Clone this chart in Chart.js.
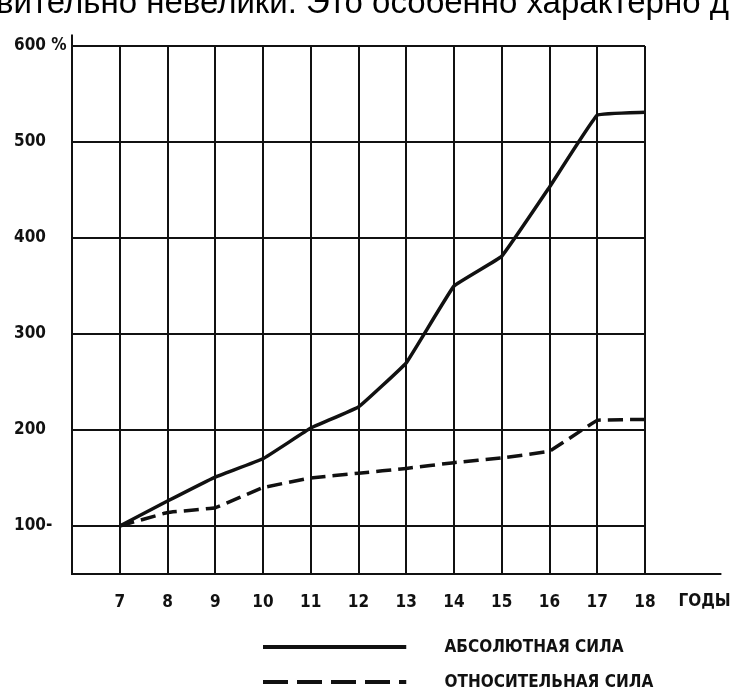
<!DOCTYPE html>
<html>
<head>
<meta charset="utf-8">
<script src="https://cdn.jsdelivr.net/npm/chart.js@4.4.1/dist/chart.umd.min.js"></script>
<style>
body { margin: 0; background: #fff; }
#wrap { position: relative; width: 739px; height: 691px; overflow: hidden; }
#txt { position: absolute; left: -4px; top: -17px; font-family: 'Liberation Sans', Arial, sans-serif; font-size: 33px; white-space: nowrap; color: #000; }
canvas { position: absolute; left: 0; top: 0; }
</style>
</head>
<body>
<div id="wrap">
<canvas id="chart" width="739" height="691"></canvas>
<div id="txt">вительно невелики. Это особенно характерно д</div>
</div>
<script>
var years = [7, 8, 9, 10, 11, 12, 13, 14, 15, 16, 17, 18];
var absolute = [100, 126, 151, 170, 202, 224, 270, 350, 381, 453, 528, 531];
var relative = [100, 114, 119, 140, 150, 155, 160, 166, 171, 178, 210, 211];
var yTicks = [100, 200, 300, 400, 500, 600];
var yLabels = ['100-', '200', '300', '400', '500', '600 %'];
var legendLabels = ['АБСОЛЮТНАЯ СИЛА', 'ОТНОСИТЕЛЬНАЯ СИЛА'];
var axisTitle = 'ГОДЫ';

var ink = '#111';
var fontFam = "'DejaVu Sans Condensed', 'Liberation Sans Narrow', 'DejaVu Sans', sans-serif";
var tickFont = { family: fontFam, size: 17, weight: 'bold' };

function pts(vals) {
    return years.map(function (yr, i) { return { x: yr, y: vals[i] }; });
}

// bits the scales don't draw: axis overhangs, "ГОДЫ", the legend under the chart
var extras = {
    id: 'extras',
    afterDraw: function (chart) {
        var ctx = chart.ctx;
        var xs = chart.scales.x, ys = chart.scales.y;
        var a = chart.chartArea;
        ctx.save();
        ctx.strokeStyle = ink;
        ctx.fillStyle = ink;
        ctx.lineWidth = 2;

        ctx.beginPath();
        ctx.moveTo(a.left, a.top);
        ctx.lineTo(a.left, ys.getPixelForValue(612));
        ctx.stroke();

        ctx.beginPath();
        ctx.moveTo(a.right, a.bottom);
        ctx.lineTo(xs.getPixelForValue(19.6), a.bottom);
        ctx.stroke();

        ctx.font = 'bold 17px ' + fontFam;
        ctx.textBaseline = 'middle';
        ctx.textAlign = 'left';
        ctx.fillText(axisTitle, xs.getPixelForValue(18.7), a.bottom + 28);

        var lx0 = xs.getPixelForValue(10), lx1 = xs.getPixelForValue(13);
        var tx = xs.getPixelForValue(13.8);
        var rows = [a.bottom + 73, a.bottom + 108];
        ctx.font = 'bold 17px ' + fontFam;
        ctx.lineWidth = 4;
        for (var i = 0; i < 2; i++) {
            ctx.setLineDash(i == 0 ? [] : [25, 9]);
            ctx.beginPath();
            ctx.moveTo(lx0, rows[i]);
            ctx.lineTo(lx1, rows[i]);
            ctx.stroke();
            ctx.setLineDash([]);
            ctx.fillText(legendLabels[i], tx, rows[i] + 1);
        }
        ctx.restore();
    }
};

var ctx = document.getElementById('chart').getContext('2d');
var myChart = new Chart(ctx, {
    type: 'line',
    data: {
        datasets: [{
            label: legendLabels[0],
            data: pts(absolute),
            borderColor: ink,
            borderWidth: 3.5,
            pointRadius: 0,
            tension: 0.07,
            fill: false
        }, {
            label: legendLabels[1],
            data: pts(relative),
            borderColor: ink,
            borderWidth: 3.5,
            borderDash: [15, 7],
            pointRadius: 0,
            tension: 0.05,
            fill: false
        }]
    },
    options: {
        responsive: false,
        animation: false,
        layout: { padding: { left: 14, right: 94, top: 46, bottom: 67 } },
        plugins: {
            legend: { display: false },
            tooltip: { enabled: false }
        },
        scales: {
            x: {
                type: 'linear',
                min: 6,
                max: 18,
                afterBuildTicks: function (scale) {
                    scale.ticks = years.map(function (v) { return { value: v }; });
                },
                afterFit: function (scale) { scale.height = 50; },
                grid: { color: ink, lineWidth: 2, drawTicks: false },
                border: { color: ink, width: 2 },
                ticks: { color: ink, font: tickFont, padding: 18, maxRotation: 0 }
            },
            y: {
                min: 50,
                max: 600,
                afterBuildTicks: function (scale) {
                    scale.ticks = yTicks.map(function (v) { return { value: v }; });
                },
                afterFit: function (scale) { scale.width = 58; },
                grid: { color: ink, lineWidth: 2, drawTicks: false },
                border: { color: ink, width: 2 },
                ticks: {
                    color: ink,
                    font: tickFont,
                    crossAlign: 'far',
                    callback: function (v, i) { return yLabels[i]; }
                }
            }
        }
    },
    plugins: [extras]
});
</script>
</body>
</html>
